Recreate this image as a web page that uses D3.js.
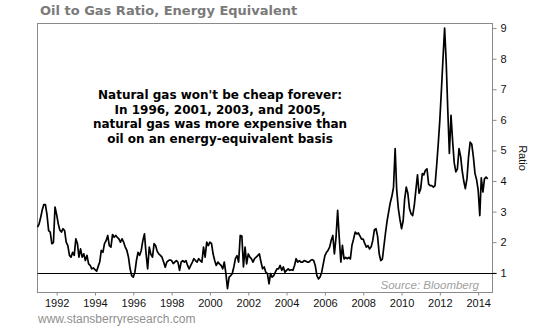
<!DOCTYPE html>
<html>
<head>
<meta charset="utf-8">
<script src="https://cdn.jsdelivr.net/npm/d3@7"></script>
<style>
  body { margin: 0; background: #fff; }
  svg { display: block; }
</style>
</head>
<body>
<div id="chart"></div>
<script>
// monthly oil-to-gas ratio (energy equivalent), first value is Jan 1991
const startMonth = new Date(1991, 0, 1);
const ratio = [
  2.49, 2.6, 2.8, 3.05, 3.23, 3.23, 2.9, 2.38, 2.33, 1.95, 1.99, 3.15,   // 1991
  2.9, 2.6, 2.4, 2.33, 2.44, 2.38, 2.0, 1.89, 1.57, 1.51, 1.67, 1.57,    // 1992
  2.11, 1.95, 1.51, 1.78, 1.51, 1.62, 1.4, 1.57, 1.29, 1.24, 1.13, 1.16, // 1993
  1.1, 1.05, 1.2, 1.35, 1.73, 1.67, 1.95, 2.05, 2.22, 1.89, 1.84, 2.25,  // 1994
  2.16, 2.22, 2.16, 2.11, 2.0, 2.11, 2.0, 1.84, 1.73, 1.51, 1.13, 0.91,  // 1995
  0.86, 1.02, 1.4, 1.67, 1.57, 1.73, 2.05, 2.27, 1.62, 1.13, 1.84, 1.6,  // 1996
  1.51, 1.95, 1.89, 1.7, 1.62, 1.57, 1.51, 1.35, 1.18, 1.35, 1.4, 1.42,  // 1997
  1.4, 1.3, 1.35, 1.4, 1.35, 1.08, 1.35, 1.4, 1.35, 1.4, 1.24, 1.13,     // 1998
  1.24, 1.35, 1.46, 1.4, 1.35, 1.46, 1.4, 1.35, 1.84, 1.51, 2.0, 1.89,   // 1999
  2.0, 1.95, 1.62, 1.4, 1.24, 1.35, 1.29, 1.24, 1.13, 1.35, 0.97, 0.48,  // 2000
  0.86, 0.91, 0.97, 1.19, 1.46, 1.56, 1.35, 2.22, 2.2, 1.19, 1.84, 1.29, // 2001
  1.62, 1.51, 1.46, 1.35, 1.46, 1.51, 1.56, 1.62, 1.35, 1.13, 1.19, 1.02,// 2002
  0.97, 0.64, 0.97, 0.86, 0.91, 1.02, 1.13, 1.13, 1.24, 1.08, 1.19, 1.02,// 2003
  1.08, 1.13, 1.08, 1.1, 1.08, 1.24, 1.46, 1.35, 1.4, 1.35, 1.35, 1.4,   // 2004
  1.38, 1.35, 1.35, 1.4, 1.43, 1.4, 1.24, 0.91, 0.8, 0.86, 1.02, 1.29,   // 2005
  1.56, 1.67, 1.73, 1.84, 2.06, 2.22, 1.62, 2.16, 3.04, 2.16, 1.35, 1.9, // 2006
  1.45, 1.5, 1.46, 1.5, 1.45, 1.9, 2.1, 2.33, 2.27, 2.3, 2.2, 2.1,       // 2007
  2.1, 1.95, 1.84, 1.89, 1.78, 1.85, 2.05, 2.4, 2.44, 2.2, 1.62, 1.4,    // 2008
  1.45, 1.9, 2.3, 2.7, 3.0, 3.3, 3.5, 3.8, 5.06, 3.7, 3.1, 2.75,         // 2009
  2.44, 2.7, 3.4, 3.8, 3.6, 3.1, 2.93, 2.87, 3.2, 3.7, 4.2, 3.6,         // 2010
  3.75, 4.24, 4.2, 4.35, 4.4, 3.9, 3.85, 3.85, 3.8, 3.85, 4.5, 5.2,      // 2011
  6.0, 7.0, 8.0, 9.0, 7.9, 6.3, 4.9, 6.15, 5.3, 4.6, 4.3, 4.4,           // 2012
  5.06, 4.8, 4.35, 4.0, 3.75, 4.07, 4.78, 5.27, 5.2, 4.8, 4.25, 4.05,    // 2013
  3.7, 2.87, 4.1, 3.64, 4.07, 4.13, 4.07                                 // 2014
];

const yearTicks = [1992, 1994, 1996, 1998, 2000, 2002, 2004, 2006, 2008, 2010, 2012, 2014];
const ratioTicks = [1, 2, 3, 4, 5, 6, 7, 8, 9];
const noteLines = [
  "Natural gas won't be cheap forever:",
  "In 1996, 2001, 2003, and 2005,",
  "natural gas was more expensive than",
  "oil on an energy-equivalent basis"
];

const data = ratio.map((v, i) => ({date: d3.timeMonth.offset(startMonth, i), value: v}));

const width = 539;
const height = 336;
const plot = {left: 37.5, right: 492.5, top: 23.5, bottom: 292.5};

const x = d3.scaleTime()
      .domain([new Date(1991, 0, 1), new Date(2014, 9, 1)])
      .range([plot.left, plot.right]);

const y = d3.scaleLinear()
      .domain([0.355, 9.15])
      .range([plot.bottom, plot.top]);

const svg = d3.select("#chart").append("svg")
      .attr("width", width)
      .attr("height", height)
      .attr("viewBox", [0, 0, width, height]);

// frame
svg.append("rect")
    .attr("x", plot.left)
    .attr("y", plot.top)
    .attr("width", plot.right - plot.left)
    .attr("height", plot.bottom - plot.top)
    .attr("fill", "none")
    .attr("stroke", "#8a8a8a");

const xAxis = g => g
      .attr("transform", `translate(0,${plot.bottom})`)
      .call(d3.axisBottom(x)
            .tickValues(yearTicks.map(yr => new Date(yr, 0, 1)))
            .tickFormat(d3.timeFormat("%Y"))
            .tickSize(3)
            .tickPadding(4))
      .call(g => g.select(".domain").remove())
      .call(g => g.selectAll(".tick line").attr("stroke", "#8a8a8a"))
      .call(g => g.selectAll(".tick text")
            .attr("fill", "#111")
            .attr("font-family", "'Liberation Sans', Arial, sans-serif")
            .attr("font-size", 11));

const yAxis = g => g
      .attr("transform", `translate(${plot.right},0)`)
      .call(d3.axisRight(y)
            .tickValues(ratioTicks)
            .tickSize(4)
            .tickPadding(4))
      .call(g => g.select(".domain").remove())
      .call(g => g.selectAll(".tick line").attr("stroke", "#8a8a8a"))
      .call(g => g.selectAll(".tick text")
            .attr("fill", "#111")
            .attr("font-family", "'Liberation Sans', Arial, sans-serif")
            .attr("font-size", 11));

svg.append("g").call(xAxis);
svg.append("g").call(yAxis);

// parity line at ratio = 1
svg.append("line")
    .attr("x1", plot.left)
    .attr("x2", plot.right + 4)
    .attr("y1", Math.round(y(1)) + 0.5)
    .attr("y2", Math.round(y(1)) + 0.5)
    .attr("stroke", "#000")
    .attr("stroke-width", 1.2);

const line = d3.line()
      .x(d => x(d.date))
      .y(d => y(d.value));

svg.append("path")
    .datum(data)
    .attr("fill", "none")
    .attr("stroke", "#000")
    .attr("stroke-width", 1.7)
    .attr("stroke-linejoin", "round")
    .attr("d", line);

// title
svg.append("text")
    .attr("x", 40)
    .attr("y", 15)
    .attr("font-family", "'DejaVu Sans', Verdana, sans-serif")
    .attr("font-weight", "bold")
    .attr("font-size", 13)
    .attr("fill", "#7a7a7a")
    .text("Oil to Gas Ratio, Energy Equivalent");

// annotation
svg.append("text")
    .attr("font-family", "'DejaVu Sans', Verdana, sans-serif")
    .attr("font-weight", "bold")
    .attr("font-size", 12)
    .attr("fill", "#000")
    .attr("text-anchor", "middle")
    .selectAll("tspan")
    .data(noteLines)
    .join("tspan")
      .attr("x", 220)
      .attr("y", (d, i) => 99 + i * 14.5)
      .text(d => d);

svg.append("text")
    .attr("x", 479)
    .attr("y", 289)
    .attr("text-anchor", "end")
    .attr("font-family", "'Liberation Sans', Arial, sans-serif")
    .attr("font-style", "italic")
    .attr("font-size", 11.5)
    .attr("fill", "#a0a0a0")
    .text("Source: Bloomberg");

svg.append("text")
    .attr("transform", "translate(523,158) rotate(90)")
    .attr("text-anchor", "middle")
    .attr("dy", "0.35em")
    .attr("font-family", "'Liberation Sans', Arial, sans-serif")
    .attr("font-size", 11)
    .attr("fill", "#111")
    .text("Ratio");

svg.append("text")
    .attr("x", 38)
    .attr("y", 323)
    .attr("font-family", "'Liberation Sans', Arial, sans-serif")
    .attr("font-size", 12)
    .attr("fill", "#8f8f8f")
    .text("www.stansberryresearch.com");
</script>
</body>
</html>
